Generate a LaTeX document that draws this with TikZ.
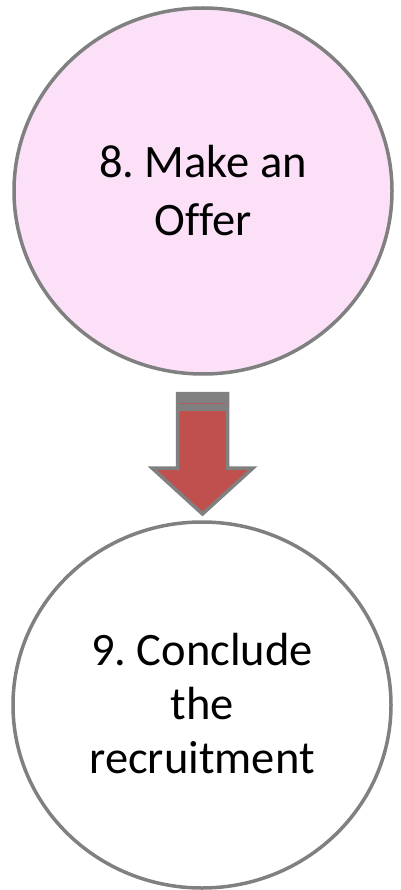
\documentclass[tikz,border=0pt]{standalone}
\usepackage{fontspec}
\setmainfont{Carlito}[Ligatures=NoCommon]
\usetikzlibrary{shapes.geometric}
\definecolor{edgegrey}{HTML}{808080}
\definecolor{pinkfill}{HTML}{FBE0F8}
\definecolor{arrowred}{HTML}{C0504D}
\tikzset{
  stepcircle/.style={ellipse, draw=edgegrey, line width=3.5pt, inner sep=0pt,
    minimum width=378pt, minimum height=366pt},
  steptext/.style={align=center, inner sep=0pt},
  blockarrow/.style={draw=edgegrey, fill=arrowred, line width=3.5pt, line join=miter}
}
\begin{document}
\frenchspacing
\begin{tikzpicture}[x=1pt,y=-1pt]
\useasboundingbox (0,0) rectangle (400,890);
\node[stepcircle, fill=pinkfill] (c8) at (203,191) {};
\node[steptext, font=\fontsize{46.5}{58}\selectfont] (t8) at (203,191) {8. Make an\\Offer};
\node[stepcircle, fill=white] (c9) at (202,705) {};
\node[steptext, font=\fontsize{46.5}{54}\selectfont] (t9) at (202,704) {9. Conclude\\the\\recruitment};
\draw[blockarrow] (177.5,393.5) -- (227.5,393.5) -- (227.5,468) -- (253,468) -- (202.5,514)
  -- (152,468) -- (177.5,468) -- cycle;
\fill[edgegrey] (177.5,393.5) rectangle (227.5,411);
\draw[arrowred!70!edgegrey, line width=0.6pt] (180,403) -- (225,403);
\end{tikzpicture}
\end{document}
